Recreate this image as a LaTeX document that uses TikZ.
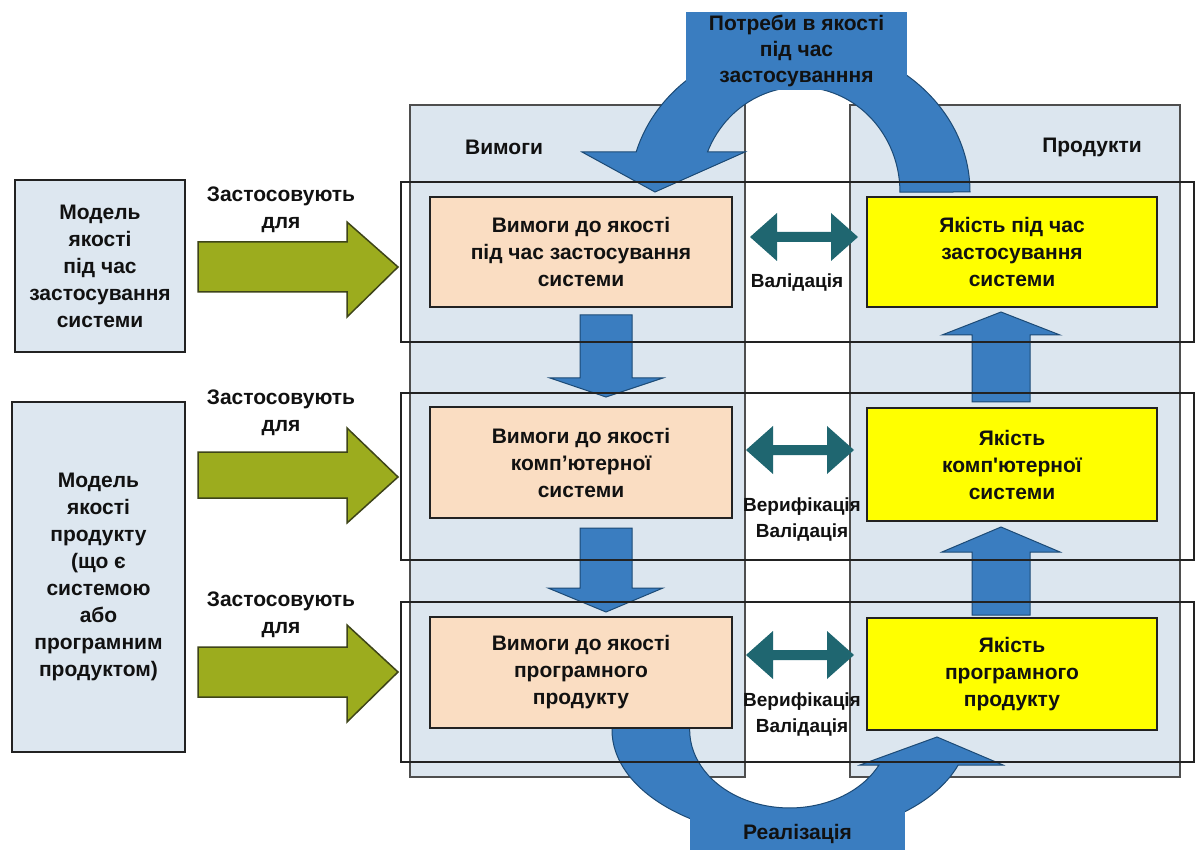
\documentclass[tikz,border=0pt]{standalone}
\usepackage{fontspec}
\setmainfont{Liberation Sans}
\definecolor{panelc}{HTML}{DCE6EF}
\definecolor{leftc}{HTML}{DDE7F0}
\definecolor{orangec}{HTML}{FADDC2}
\definecolor{yellowc}{HTML}{FFFF00}
\definecolor{greenc}{HTML}{9CAC1E}
\definecolor{greend}{HTML}{3E4418}
\definecolor{bluec}{HTML}{3A7DC0}
\definecolor{blued}{HTML}{1C4A75}
\definecolor{tealc}{HTML}{1F6670}
\definecolor{linec}{HTML}{222222}
\definecolor{txt}{HTML}{111111}
\begin{document}
\begin{tikzpicture}[x=1pt,y=-1pt,
  font=\fontsize{21}{27}\selectfont\bfseries, text=txt,
  panel/.style={draw=linec!80, line width=1.2pt, fill=panelc, inner sep=0},
  lbox/.style={draw=linec, line width=1.6pt, fill=leftc, align=center, inner sep=0},
  obox/.style={draw=linec, line width=1.6pt, fill=orangec, align=center, inner sep=0},
  ybox/.style={draw=linec, line width=1.6pt, fill=yellowc, align=center, inner sep=0},
  rowbox/.style={draw=linec, line width=2.2pt, inner sep=0},
  bluebox/.style={fill=bluec, inner sep=0, align=center, font=\fontsize{21}{26}\selectfont\bfseries},
  blk/.style={fill=bluec, draw=blued, line width=1pt},
  grn/.style={fill=greenc, draw=greend, line width=1.5pt},
  lbl/.style={align=center, inner sep=0},
  vlbl/.style={align=center, inner sep=0, font=\fontsize{19}{26}\selectfont\bfseries},
  dblarrow/.pic={\fill[tealc] (-54,0) -- (-27,-24) -- (-27,-5) -- (27,-5) -- (27,-24) -- (54,0) -- (27,24) -- (27,5) -- (-27,5) -- (-27,24) -- cycle;}
]
\useasboundingbox (0,0) rectangle (1195,850);
\fill[white] (0,0) rectangle (1195,850);

% column panels
\node[panel, minimum width=335pt, minimum height=672pt] (pl) at (577.5,441) {};
\node[panel, minimum width=330pt, minimum height=672pt] (pr) at (1015,441) {};
\node (hv) at (504,147) {Вимоги};
\node (hp) at (1092,147) {Продукти};

% left model boxes
\node[lbox, minimum width=170pt, minimum height=172pt] (m1) at (100,266)
  {Модель\\якості\\під час\\застосування\\системи};
\node[lbox, minimum width=173pt, minimum height=350pt] (m2) at (98.5,577)
  {Модель\\якості\\продукту\\(що є\\системою\\або\\програмним\\продуктом)};

% top curved arrow
\draw[blk] (970,192) arc[start angle=0, end angle=-164.5, x radius=170, y radius=150]
  -- (582,152) -- (655,192) -- (745,152) -- (707.5,152)
  arc[start angle=-157.6, end angle=0, x radius=100, y radius=105] -- cycle;
\node[bluebox, minimum width=221pt, minimum height=78pt] (need) at (796.5,51)
  {Потреби в якості\\під час\\застосуванння};

% bottom curved arrow
\draw[blk] (612,722) -- (612,730) arc[start angle=180, end angle=19.1, x radius=178, y radius=107]
  -- (1003,765) -- (937,737) -- (860,765) -- (879,765)
  arc[start angle=26.7, end angle=180, x radius=100, y radius=78] -- (690,722) -- cycle;
\node[bluebox, minimum width=215pt, minimum height=48pt] (impl) at (797.5,834) {Реалізація};

% vertical blue arrows
\draw[blk] (580,315) -- (632,315) -- (632,378) -- (663,378) -- (606,397) -- (550,378) -- (580,378) -- cycle;
\draw[blk] (580,528) -- (632,528) -- (632,588) -- (663,588) -- (606,612) -- (548,588) -- (580,588) -- cycle;
\draw[blk] (972,402) -- (1030,402) -- (1030,335) -- (1060,335) -- (1001,312) -- (942,335) -- (972,335) -- cycle;
\draw[blk] (972,615) -- (1030,615) -- (1030,552) -- (1060,552) -- (1001,527) -- (942,552) -- (972,552) -- cycle;

% requirement and quality boxes
\node[obox, minimum width=302pt, minimum height=110pt] (o1) at (581,252)
  {Вимоги до якості\\під час застосування\\системи};
\node[obox, minimum width=302pt, minimum height=111pt] (o2) at (581,462.5)
  {Вимоги до якості\\комп’ютерної\\системи};
\node[obox, minimum width=302pt, minimum height=111pt] (o3) at (581,672.5)
  {Вимоги до якості\\програмного\\продукту};
\node[ybox, minimum width=290pt, minimum height=110pt] (y1) at (1012,252)
  {Якість під час\\застосування\\системи};
\node[ybox, minimum width=290pt, minimum height=113pt] (y2) at (1012,464.5)
  {Якість\\комп\textquotesingle ютерної\\системи};
\node[ybox, minimum width=290pt, minimum height=112pt] (y3) at (1012,674)
  {Якість\\програмного\\продукту};

% row frames
\node[rowbox, minimum width=793pt, minimum height=160pt] (r1) at (797.5,262) {};
\node[rowbox, minimum width=793pt, minimum height=167pt] (r2) at (797.5,476.5) {};
\node[rowbox, minimum width=793pt, minimum height=160pt] (r3) at (797.5,682) {};

% green arrows
\draw[grn] (198,242) -- (347,242) -- (347,222) -- (398,267) -- (347,317) -- (347,292) -- (198,292) -- cycle;
\draw[grn] (198,452) -- (347,452) -- (347,428) -- (398,477) -- (347,523) -- (347,498) -- (198,498) -- cycle;
\draw[grn] (198,647) -- (347,647) -- (347,625) -- (398,672) -- (347,722) -- (347,697) -- (198,697) -- cycle;
\node[lbl] (a1) at (281,210) {Застосовують\\для};
\node[lbl] (a2) at (281,413) {Застосовують\\для};
\node[lbl] (a3) at (281,615) {Застосовують\\для};

% double arrows and labels
\pic at (804,237) {dblarrow};
\pic at (800,450) {dblarrow};
\pic at (800,655) {dblarrow};
\node[vlbl] (v1) at (797,283) {Валідація};
\node[vlbl] (v2) at (802,520) {Верифікація\\Валідація};
\node[vlbl] (v3) at (802,715) {Верифікація\\Валідація};
\end{tikzpicture}
\end{document}
